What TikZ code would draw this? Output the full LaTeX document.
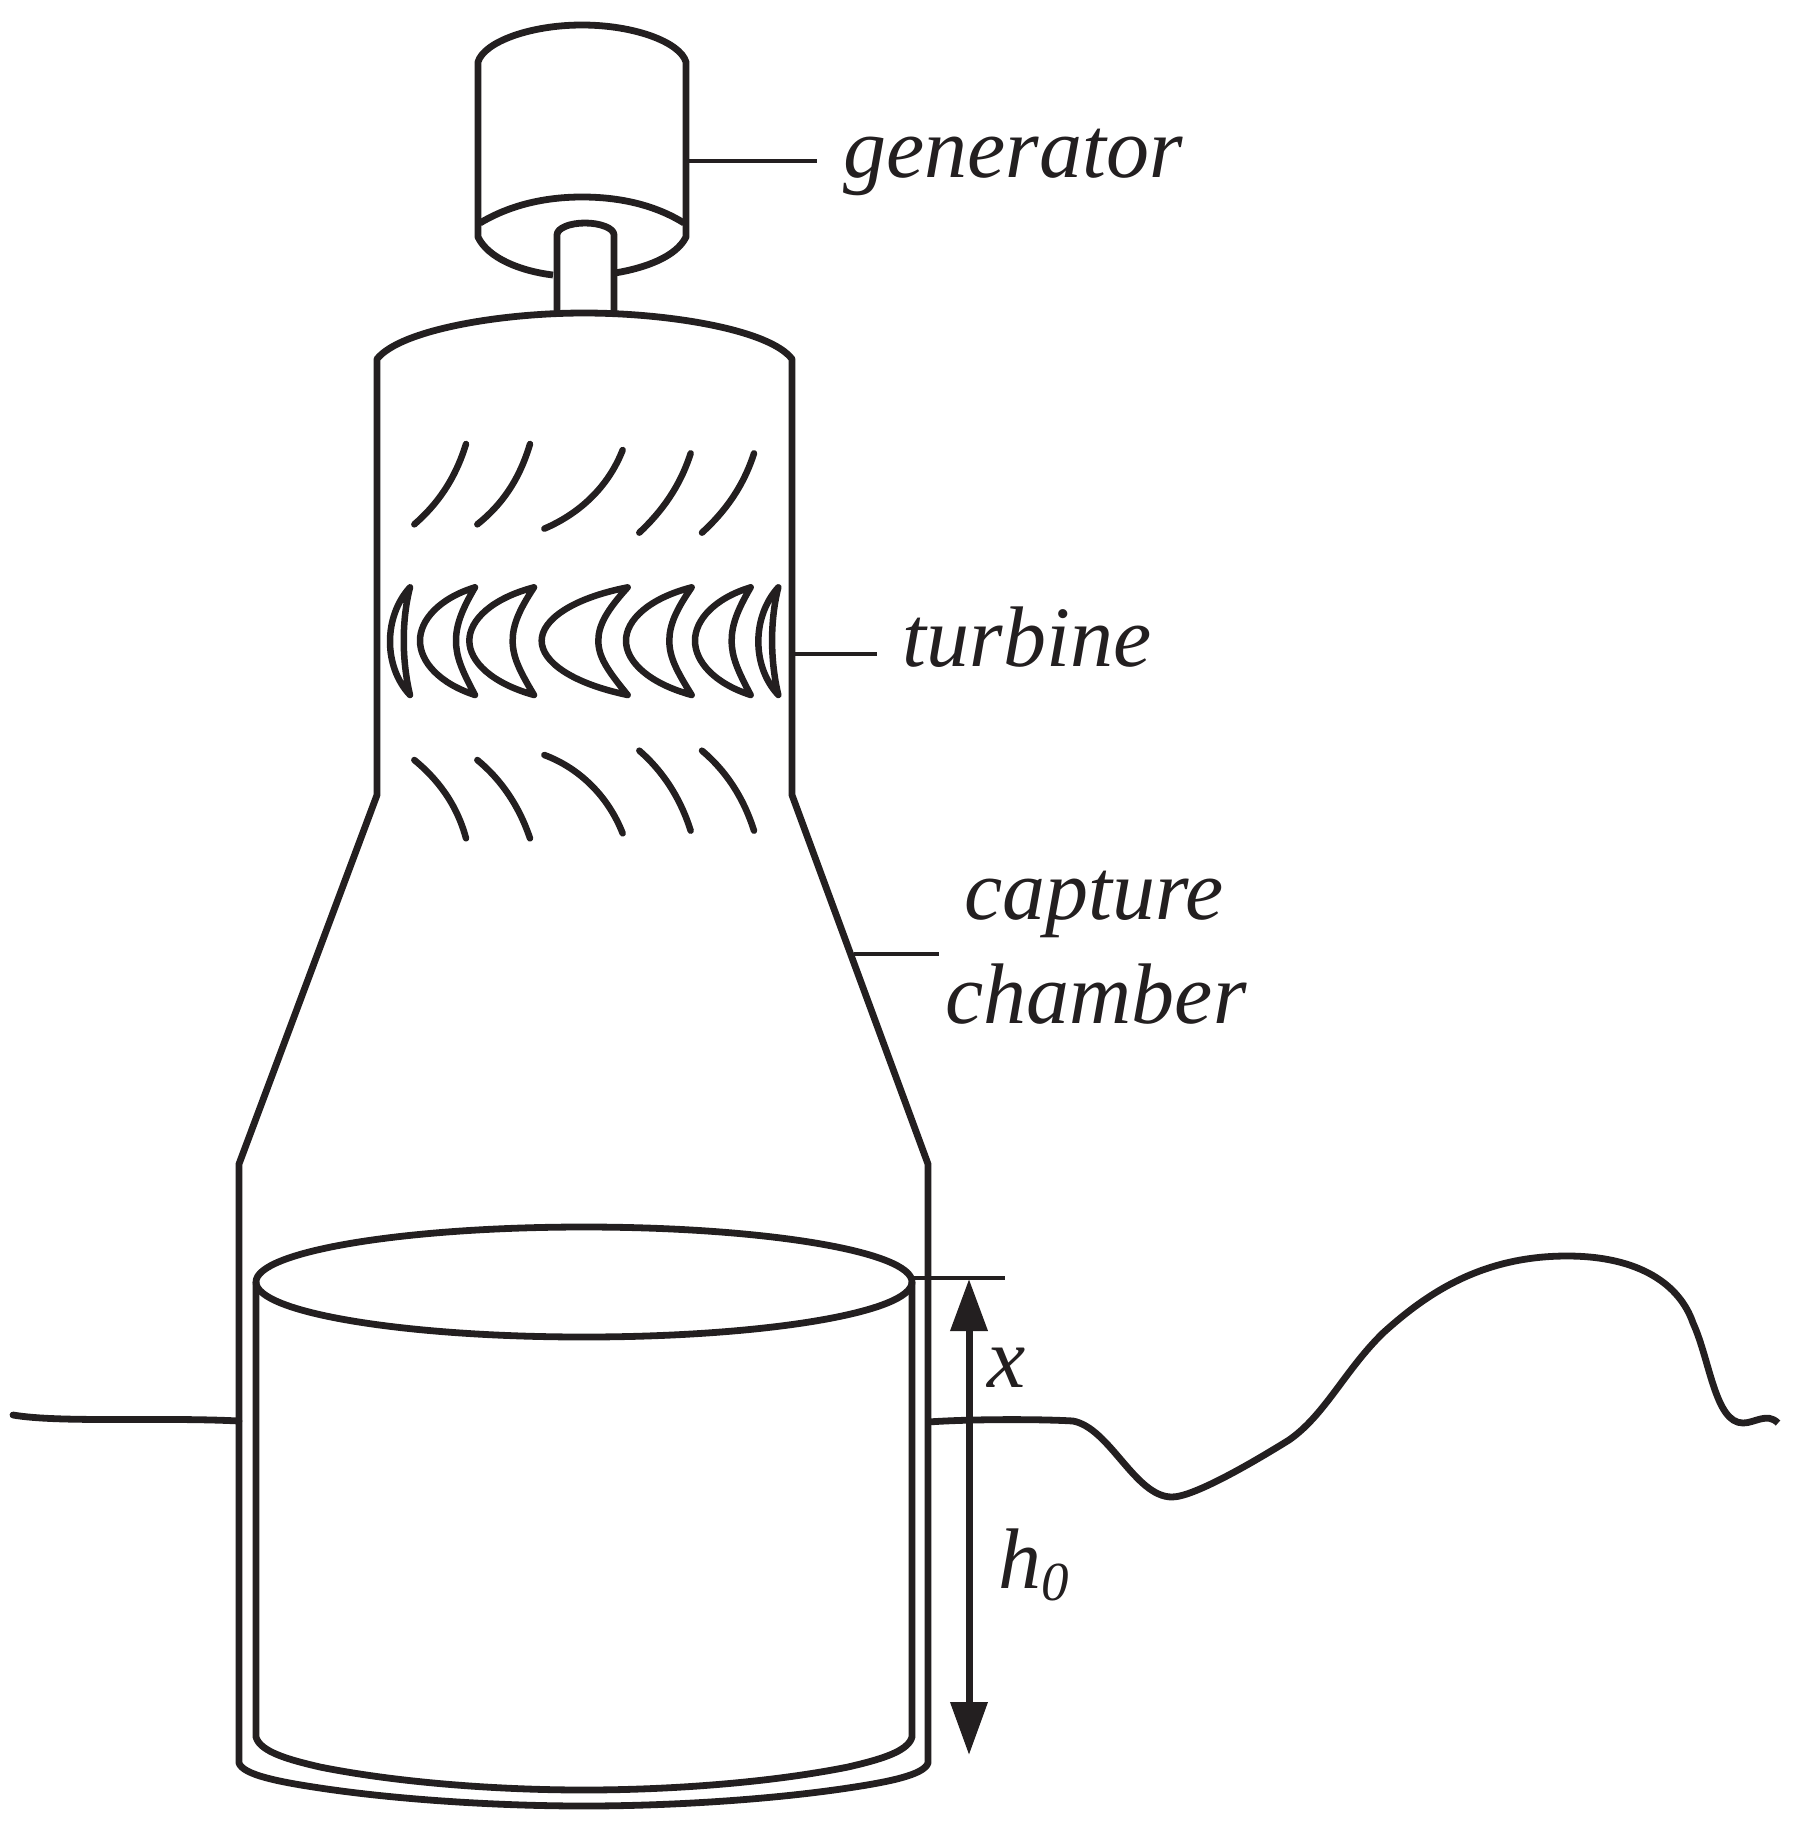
\documentclass[tikz,border=0pt]{standalone}
\usepackage{fontspec}
\setmainfont{Liberation Serif}
\usetikzlibrary{arrows.meta}
\definecolor{ink}{RGB}{35,31,32}
\newcommand{\crescent}[3]{%
  \draw[blade] (#1,502) .. controls ({#2+0.35*(#1-#2)},535) and (#2,600) .. (#2,662)
    .. controls (#2,725) and ({#2+0.35*(#1-#2)},790) .. (#1,825)
    .. controls ({#3+0.3*(#1-#3)},750) and (#3,710) .. (#3,662)
    .. controls (#3,615) and ({#3+0.3*(#1-#3)},570) .. (#1,502) -- cycle;}
\tikzset{
  wall/.style={draw=ink,line width=6.8pt,line join=round},
  leader/.style={draw=ink,line width=4.5pt},
  blade/.style={draw=ink,line width=6.5pt,line cap=round,line join=round},
  dim/.style={draw=ink,line width=7pt},
  tag/.style={inner sep=0pt,anchor=base,text=ink,font=\fontsize{86}{86}\selectfont\itshape}
}
\begin{document}
\begin{tikzpicture}[x=1pt,y=-1pt]
\useasboundingbox (0,0) rectangle (1794,1829);
% generator
\draw[wall] (553,275) .. controls (520,271) and (488,258) .. (478,237) -- (478,62)
  .. controls (484,42) and (530,25) .. (582,25) .. controls (634,25) and (680,42) .. (686,62)
  -- (686,237) .. controls (676,257) and (645,268) .. (615,273);
\draw[wall] (480,223) .. controls (510,205) and (545,197) .. (582,197)
  .. controls (620,197) and (655,205) .. (684,223);
\draw[wall] (557,312) -- (557,235) .. controls (557,228) and (570,223) .. (585,223)
  .. controls (600,223) and (614,228) .. (614,235) -- (614,312);
% chamber
\draw[wall] (584,1806) .. controls (500,1806) and (400,1800) .. (320,1788)
  .. controls (280,1782) and (243,1775) .. (239,1763) -- (239,1164) -- (377,795) -- (377,359)
  .. controls (400,330) and (500,313) .. (584,313) .. controls (670,313) and (770,330) .. (792,359)
  -- (792,795) -- (928,1164) -- (928,1763) .. controls (924,1775) and (888,1782) .. (848,1788)
  .. controls (768,1800) and (668,1806) .. (584,1806);
% water column
\draw[wall] (584,1282) ellipse [x radius=328,y radius=55];
\draw[wall] (256,1282) -- (256,1737) .. controls (260,1752) and (290,1760) .. (320,1767)
  .. controls (400,1783) and (500,1790) .. (584,1790)
  .. controls (668,1790) and (768,1783) .. (848,1767)
  .. controls (878,1760) and (908,1752) .. (912,1737) -- (912,1282);
% blades
\begin{scope}[shift={(360,420)},x=0.33333pt,y=-0.33333pt]
\draw[blade] (318,72) .. controls (285,180) and (230,255) .. (163,313);
\draw[blade] (510,72) .. controls (478,180) and (425,255) .. (352,313);
\draw[blade] (788,90) .. controls (745,200) and (660,280) .. (553,326);
\draw[blade] (992,100) .. controls (960,200) and (905,275) .. (838,338);
\draw[blade] (1182,100) .. controls (1150,200) and (1095,275) .. (1026,338);
\draw[blade] (163,1020) .. controls (230,1075) and (290,1150) .. (318,1255);
\draw[blade] (352,1020) .. controls (425,1080) and (478,1160) .. (510,1255);
\draw[blade] (553,1005) .. controls (660,1045) and (745,1130) .. (788,1240);
\draw[blade] (838,992) .. controls (905,1050) and (960,1130) .. (992,1232);
\draw[blade] (1026,992) .. controls (1095,1050) and (1150,1130) .. (1182,1232);
\draw[blade] (150,502) .. controls (70,590) and (70,740) .. (150,825)
  .. controls (125,720) and (125,600) .. (150,502) -- cycle;
\crescent{345}{180}{288}
\crescent{522}{328}{458}
\crescent{803}{545}{715}
\crescent{995}{798}{928}
\crescent{1172}{1005}{1115}
\draw[blade] (1255,502) .. controls (1175,590) and (1175,740) .. (1255,825)
  .. controls (1230,720) and (1230,600) .. (1255,502) -- cycle;
\end{scope}
% labels
\node[tag] (gen) at (1013,177) {generator};
\node[tag] (tur) at (1027,666) {turbine};
\node[tag] (cap) at (1094,919) {capture};
\node[tag] (cha) at (1096,1023) {chamber};
\node[tag] (xl) at (1007,1387) {x};
\node[tag] (hl) at (1034,1588) {h\raisebox{-12pt}{\fontsize{55}{55}\selectfont 0}};
% leaders
\coordinate (g0) at (686,161); \coordinate (g1) at (817,161);
\coordinate (t0) at (792,654); \coordinate (t1) at (877,654);
\coordinate (c0) at (854,954); \coordinate (c1) at (939,954);
\draw[leader] (g0) -- (g1);
\draw[leader] (t0) -- (t1);
\draw[leader] (c0) -- (c1);
% dimension
\coordinate (e0) at (912,1278); \coordinate (e1) at (1005,1278);
\draw[leader] (e0) -- (e1);
\coordinate (a0) at (969,1279); \coordinate (a1) at (969,1755);
\draw[dim,{Triangle[length=52pt,width=36pt]}-{Triangle[length=53pt,width=36pt]}] (a0) -- (a1);
% water surface
\draw[wall,line cap=round] (13,1415) .. controls (60,1423) and (160,1417) .. (239,1421);
\draw[wall] (928,1422) .. controls (970,1419) and (1040,1419) .. (1073,1421)
  .. controls (1110,1428) and (1135,1497) .. (1172,1497)
  .. controls (1195,1497) and (1260,1458) .. (1289,1440)
  .. controls (1325,1415) and (1345,1370) .. (1383,1333)
  .. controls (1425,1295) and (1480,1256) .. (1567,1256)
  .. controls (1640,1256) and (1680,1285) .. (1693,1323)
  .. controls (1710,1360) and (1715,1423) .. (1743,1423)
  .. controls (1755,1423) and (1767,1412) .. (1778,1423);
\end{tikzpicture}
\end{document}
